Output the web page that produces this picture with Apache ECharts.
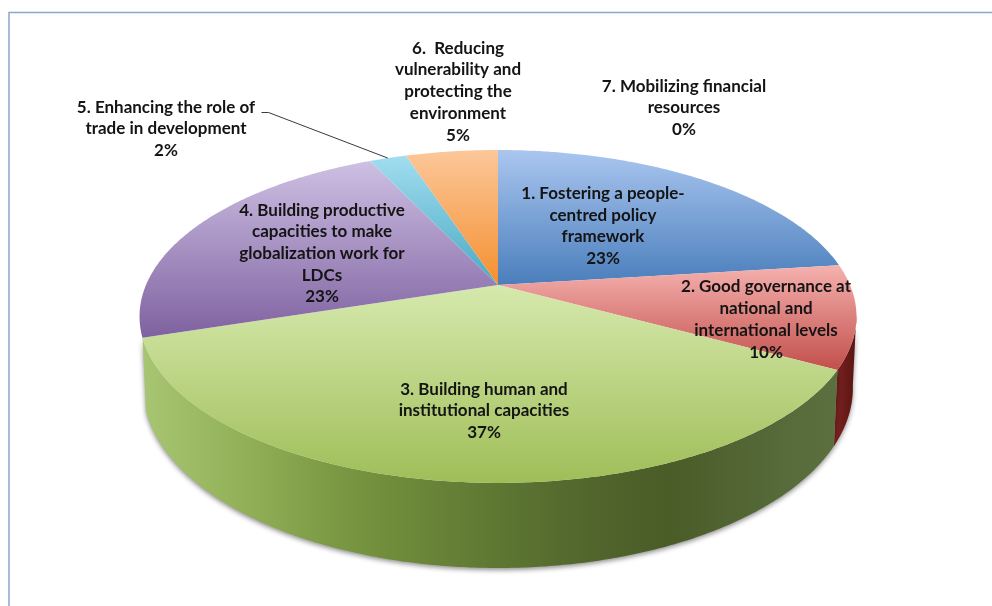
<!DOCTYPE html>
<html>
<head>
<meta charset="utf-8">
<script src="https://cdn.jsdelivr.net/npm/echarts@6/dist/echarts.min.js"></script>
<style>
  html, body { margin: 0; padding: 0; background: #ffffff; }
  #chart { width: 992px; height: 606px; }
</style>
</head>
<body>
<div id="chart"></div>
<script>
// ---- data ----
const categoryLines = [
  ['1. Fostering a people-', 'centred policy', 'framework'],
  ['2. Good governance at', 'national and', 'international levels'],
  ['3. Building human and', 'institutional capacities'],
  ['4. Building productive', 'capacities to make', 'globalization work for', 'LDCs'],
  ['5. Enhancing the role of', 'trade in development'],
  ['6.  Reducing', 'vulnerability and', 'protecting the', 'environment'],
  ['7. Mobilizing financial', 'resources']
];
const shares = [23, 10, 37, 23, 2, 5, 0];

// ---- styles ----
const topColors = [
  ['#aac6f0', '#4a7ebb'],
  ['#f5b1ae', '#c24f4b'],
  ['#d6e9ad', '#9fbe58'],
  ['#cec0e3', '#7e61a0'],
  ['#a2ddf0', '#49a9c3'],
  ['#fcc79a', '#f4902f'],
  ['#dddddd', '#999999']
];
const wallStops = [
  [[0, '#5b86c0'], [1, '#2f5486']],
  [[0, '#7e2321'], [1, '#561412']],
  [[0, '#a8c672'], [0.16, '#8fae55'], [0.27, '#7c9a44'], [0.36, '#6f8c3b'],
   [0.51, '#5e7733'], [0.66, '#50642b'], [0.76, '#4a5c27'], [0.92, '#566a3a'], [1, '#5b6f3f']],
  [[0, '#7a5e9c'], [1, '#4f3a6a']],
  [[0, '#3e9ab4'], [1, '#2a6f82']],
  [[0, '#e08a36'], [1, '#a85f1c']],
  [[0, '#999999'], [1, '#666666']]
];
// label anchor (block centre) for each slice
const labelAnchors = [
  [603, 226], [766, 319.5], [484, 411], [322, 253.5],
  [166, 129], [458, 91.7], [684, 108]
];
// leader line start for outside labels that need one
const leaderStarts = { 4: [[261.5, 112.5], [268.5, 112.5]] };

// perspective geometry of the tilted disc
const G = {
  cx: 498, cy: 285,   // projected centre of the top face
  A: 352, B: 160.5,   // horizontal / depth radii before perspective
  k: 0.189,           // perspective strength (far side smaller)
  D: 69,              // thickness of the disc
  s: 0.99,            // slight shrink of the lower rim
  vis0: 100 * Math.PI / 180,
  vis1: 252 * Math.PI / 180
};

const total = shares.reduce((a, b) => a + b, 0);
const starts = [];
{ let acc = 0; shares.forEach(v => { starts.push(acc / total); acc += v; }); }

function proj(theta, r, lower) {
  const u = r * Math.sin(theta), v = r * Math.cos(theta);
  const w = 1 + G.k * v;
  const x = G.cx + G.A * u / w;
  const y = G.cy - G.B * v / w;
  if (!lower) return [x, y];
  return [G.cx + (x - G.cx) * G.s, y + G.D / w];
}

function arcPoints(a, b, lower) {
  const pts = [];
  const n = Math.max(2, Math.ceil((b - a) / (Math.PI / 360)));
  for (let i = 0; i <= n; i++) pts.push(proj(a + (b - a) * i / n, 1, lower));
  return pts;
}

function renderItem(params, api) {
  const i = params.dataIndex;
  const val = api.value(0);
  const a = starts[i] * 2 * Math.PI;
  const b = a + val / total * 2 * Math.PI;
  const children = [];

  if (val > 0) {
    // side wall, only on the part of the rim that faces the viewer
    const wa = Math.max(a, G.vis0), wb = Math.min(b, G.vis1);
    if (wb > wa) {
      const top = arcPoints(wa, wb, false);
      const bot = arcPoints(wa, wb, true).reverse();
      children.push({
        type: 'polygon', z2: 1,
        shape: { points: top.concat(bot) },
        style: {
          fill: { type: 'linear', x: 0, y: 0, x2: 1, y2: 0, colorStops: wallStops[i].map(s => ({ offset: s[0], color: s[1] })) },
          stroke: null,
          shadowBlur: 5, shadowColor: 'rgba(0,0,0,0.45)', shadowOffsetX: 0, shadowOffsetY: 2
        }
      });
    }
    // top face
    const pts = [[G.cx, G.cy]].concat(arcPoints(a, b, false));
    children.push({
      type: 'polygon', z2: 10,
      shape: { points: pts },
      style: {
        fill: { type: 'linear', x: 0, y: 0, x2: 0, y2: 1, colorStops: [
          { offset: 0, color: topColors[i][0] }, { offset: 1, color: topColors[i][1] }] },
        stroke: null
      }
    });
  }

  // leader line
  if (leaderStarts[i]) {
    const mid = (a + b) / 2;
    const end = proj(mid, 1, false);
    children.push({
      type: 'polyline', z2: 20,
      shape: { points: leaderStarts[i].concat([end]) },
      style: { stroke: '#3a3a3a', lineWidth: 1, fill: null }
    });
  }

  // label
  const text = categoryLines[i].concat([val + '%']).join('\n');
  children.push({
    type: 'text', z2: 30,
    style: {
      text: text,
      x: labelAnchors[i][0], y: labelAnchors[i][1],
      align: 'center', verticalAlign: 'middle',
      textAlign: 'center', textVerticalAlign: 'middle',
      fontFamily: 'Lato', fontWeight: 'bold', fontSize: 17,
      lineHeight: 21.7,
      fill: '#141414'
    }
  });

  return { type: 'group', children: children };
}

const chart = echarts.init(document.getElementById('chart'), null, { renderer: 'canvas' });
chart.setOption({
  backgroundColor: '#ffffff',
  animation: false,
  graphic: [{
    type: 'rect', z: -10,
    shape: { x: 9, y: 12.5, width: 1000, height: 620 },
    style: { fill: null, stroke: '#8ba6cc', lineWidth: 1.5 }
  }],
  series: [{
    type: 'custom',
    coordinateSystem: 'none',
    renderItem: renderItem,
    data: shares.map((v, i) => ({ name: categoryLines[i].join(' '), value: [v] }))
  }]
});
</script>
</body>
</html>
